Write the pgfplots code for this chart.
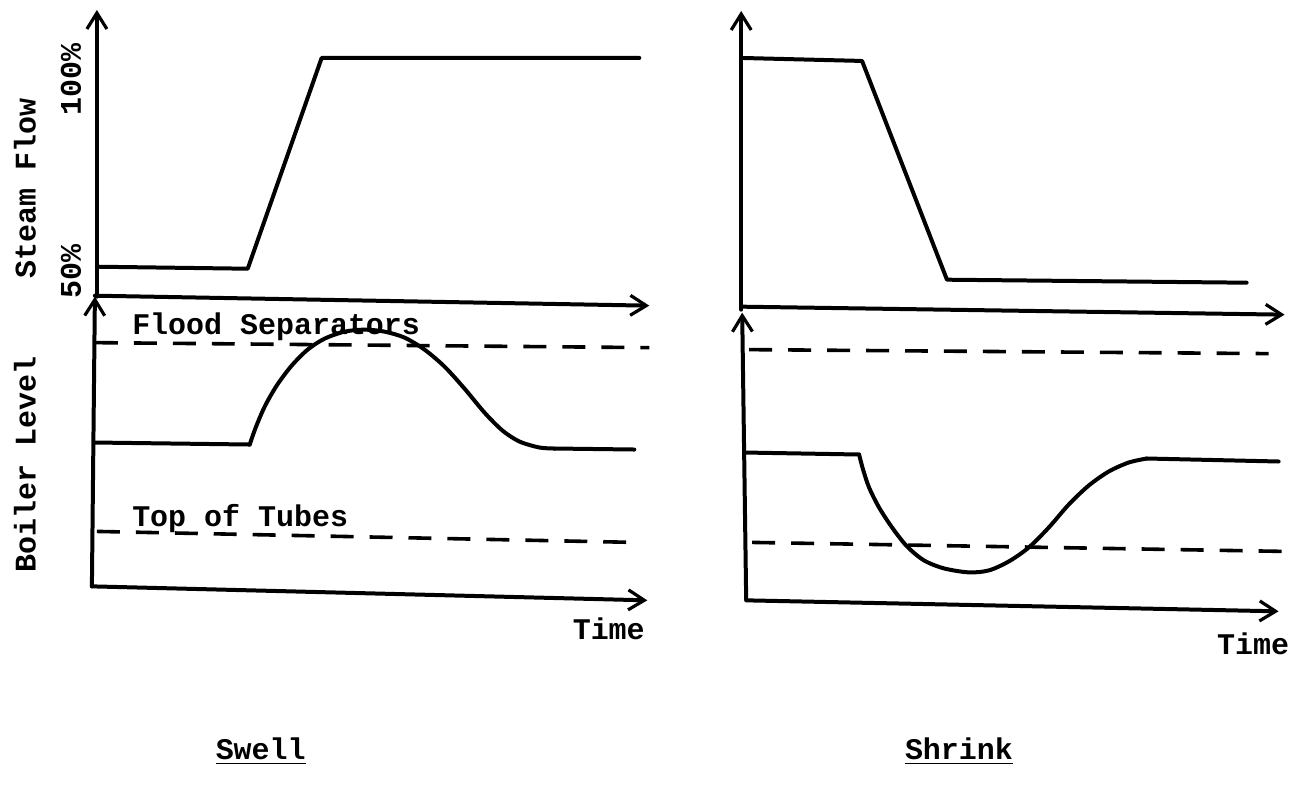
\documentclass[border=0pt]{standalone}
\usepackage{pgfplots}
\pgfplotsset{compat=1.18}
\usepackage{fontspec}
\setmainfont{Liberation Mono}
\usetikzlibrary{arrows.meta}
\tikzset{
 crv/.style={black, solid, mark=none, line width=2pt, line join=round, line cap=round},
 ax/.style={crv, -{Straight Barb[length=8pt,width=10pt,line width=1.6pt]}},
 dsh/.style={black, mark=none, line width=1.8pt, dash pattern=on 11.5pt off 8pt, line cap=butt},
 lab/.style={font=\fontsize{15}{18}\selectfont\bfseries},
}
\begin{document}
\begin{tikzpicture}
\begin{axis}[
 width=644.5pt, height=397pt, scale only axis,
 xmin=0,xmax=1289,ymin=0,ymax=794, y dir=reverse,
 hide axis, clip=false,
]
\path (axis cs:0,0) rectangle (axis cs:1289,794);
% ---- Swell: steam flow
\addplot[ax] coordinates {(97,297) (97,10)};
\addplot[ax] coordinates {(95,296) (650,306)};
\addplot[crv] coordinates {(97,267) (248,269) (322,58) (640,58)};
% ---- Swell: boiler level
\addplot[ax] coordinates {(92,587) (95,297)};
\addplot[ax] coordinates {(92,587) (648,601)};
\addplot[dsh] coordinates {(95,343) (650,348)};
\addplot[dsh] coordinates {(97,532) (636,543)};
\addplot[crv] coordinates {(95,443) (250,445)};
\addplot[crv, smooth] coordinates {(250,445) (256,428) (265,407) (277,386) (292,366) (308,350) (325,339) (345,332) (365,330) (385,332) (405,338) (425,350) (445,367) (465,389) (485,413) (503,431) (520,442) (540,448) (555,449)};
\addplot[crv] coordinates {(555,449) (635,450)};
% ---- Shrink: steam flow
\addplot[ax] coordinates {(742,310) (742,11)};
\addplot[ax] coordinates {(742,307) (1286,315)};
\addplot[crv] coordinates {(742,58) (863,61) (948,280) (1248,283)};
% ---- Shrink: boiler level
\addplot[ax] coordinates {(747,600) (743,313)};
\addplot[ax] coordinates {(747,601) (1280,612)};
\addplot[dsh] coordinates {(750,350) (1270,354)};
\addplot[dsh] coordinates {(753,543) (1285,552)};
\addplot[crv] coordinates {(745,453) (860,455)};
\addplot[crv, smooth] coordinates {(860,455) (864,470) (870,488) (880,508) (893,528) (908,547) (925,561) (945,569) (970,573) (990,571) (1010,562) (1030,548) (1050,528) (1070,505) (1090,486) (1110,472) (1130,463) (1148,459)};
\addplot[crv] coordinates {(1148,459) (1280,462)};
% ---- labels
\node[lab, rotate=90] at (axis cs:25,189) {Steam Flow};
\node[lab, rotate=90] at (axis cs:25,465) {Boiler Level};
\node[lab, rotate=90] at (axis cs:71,80) {100\%};
\node[lab, rotate=90] at (axis cs:71,272) {50\%};
\node[lab, anchor=base west, inner sep=0pt] at (axis cs:132,335) {Flood Separators};
\node[lab, anchor=base west, inner sep=0pt] at (axis cs:132,527) {Top of Tubes};
\node[lab, anchor=base west, inner sep=0pt] at (axis cs:573,640) {Time};
\node[lab, anchor=base west, inner sep=0pt] at (axis cs:1218,655) {Time};
\node[lab] at (axis cs:261,752) {\underline{Swell}};
\node[lab] at (axis cs:960,752) {\underline{Shrink}};
\end{axis}
\end{tikzpicture}
\end{document}
